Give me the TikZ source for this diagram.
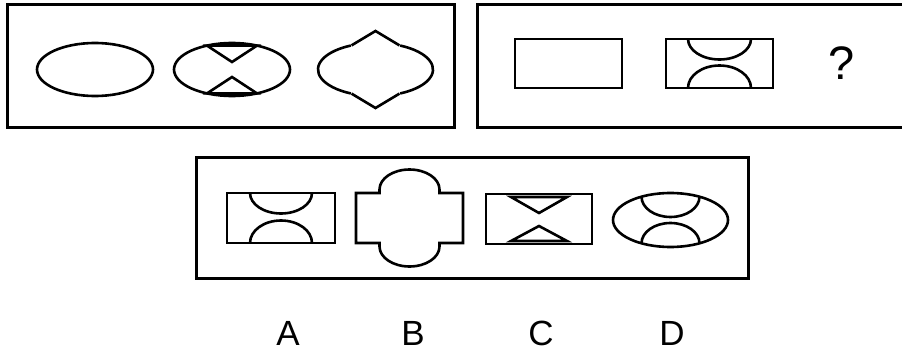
\documentclass[tikz,border=0pt]{standalone}
\usepackage{fontspec}
\setmainfont{Liberation Sans}
\begin{document}
\begin{tikzpicture}[x=1pt,y=-1pt,
  frame/.style={line width=3pt},
  fig/.style={line width=2.6pt, line join=miter},
  lbl/.style={anchor=base, inner sep=0pt, font=\fontsize{35}{35}\selectfont}]
\useasboundingbox (0,0) rectangle (902,353);
% frames
\draw[frame] (7,5) rectangle (454,127);
\draw[frame] (902,5) -- (477,5) -- (477,127) -- (902,127);
\draw[frame] (196,157) rectangle (748,278);
% figure 1: ellipse
\draw[fig] (95,69.5) ellipse [x radius=58, y radius=26.5];
% figure 2: ellipse with inner triangles
\draw[fig] (232,69.5) ellipse [x radius=58, y radius=26.5];
\fill (232,69.5) ++(-115.54:58 and 26.5) arc[start angle=-115.54, end angle=-64.46, x radius=58, y radius=26.5] -- cycle;
\fill (232,69.5) ++(64.46:58 and 26.5) arc[start angle=64.46, end angle=115.54, x radius=58, y radius=26.5] -- cycle;
\draw[fig] (207,45.6) -- (232,62) -- (257,45.6) -- cycle;
\draw[fig] (207,93.4) -- (232,77) -- (257,93.4) -- cycle;
% figure 3: ellipse with outer peaks
\draw[fig] (375.5,69.5) ++(-64.6:57.5 and 26.5) arc[start angle=-64.6, end angle=64.6, x radius=57.5, y radius=26.5];
\draw[fig] (375.5,69.5) ++(115.4:57.5 and 26.5) arc[start angle=115.4, end angle=244.6, x radius=57.5, y radius=26.5];
\draw[fig] (351.5,45.4) -- (375.5,31) -- (399.5,45.4);
\draw[fig] (351.5,93.6) -- (375.5,108) -- (399.5,93.6);
% second frame figures
\draw[fig] (515,39) rectangle (622,88);
\draw[fig] (666,39) rectangle (773,88);
\draw[fig] (688,39) arc[start angle=180, end angle=0, x radius=31.5, y radius=20.5];
\draw[fig] (688,88) arc[start angle=180, end angle=360, x radius=31.5, y radius=22.5];
\node[anchor=base, inner sep=0pt, font=\fontsize{47}{47}\selectfont] (q) at (841.5,80) {?};
% option A
\draw[fig] (227,193) rectangle (335,243);
\draw[fig] (250,193) arc[start angle=180, end angle=0, x radius=31, y radius=20.5];
\draw[fig] (250,243) arc[start angle=180, end angle=360, x radius=31, y radius=22.5];
% option B
\draw[fig] (356,193) -- (379.5,193) -- (379.5,189.5)
  arc[start angle=180, end angle=360, x radius=30, y radius=20]
  -- (439.5,193) -- (463,193) -- (463,243) -- (439.5,243) -- (439.5,246.5)
  arc[start angle=0, end angle=180, x radius=30, y radius=20]
  -- (379.5,243) -- (356,243) -- cycle;
% option C
\draw[fig] (486,194) rectangle (592,244);
\draw[fig] (511,197) -- (539,213) -- (567,197) -- cycle;
\draw[fig] (511,241) -- (539,226) -- (567,241) -- cycle;
% option D
\draw[fig] (670.5,220) ellipse [x radius=57.5, y radius=27];
\draw[fig] (641.5,196.7) arc[start angle=180, end angle=0, x radius=29, y radius=20.3];
\draw[fig] (641.5,243.3) arc[start angle=180, end angle=360, x radius=29, y radius=20.3];
% labels
\node[lbl] (la) at (288,345) {A};
\node[lbl] (lb) at (413,345) {B};
\node[lbl] (lc) at (541,345) {C};
\node[lbl] (ld) at (672,345) {D};
\end{tikzpicture}
\end{document}
